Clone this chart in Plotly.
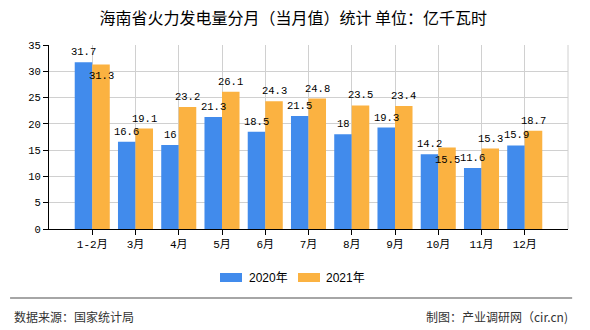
import plotly.graph_objects as go

categories = ["1-2月", "3月", "4月", "5月", "6月", "7月", "8月", "9月", "10月", "11月", "12月"]
values_2020 = [31.7, 16.6, 16, 21.3, 18.5, 21.5, 18, 19.3, 14.2, 11.6, 15.9]
values_2021 = [31.3, 19.1, 23.2, 26.1, 24.3, 24.8, 23.5, 23.4, 15.5, 15.3, 18.7]
series_names = ["2020年", "2021年"]
y_ticks = [0, 5, 10, 15, 20, 25, 30, 35]

BLUE = "#418BEC"
ORANGE = "#FBB241"
label_font = dict(family="Liberation Mono, Noto Sans CJK SC", size=10.5, color="#000000")

fig = go.Figure()
for name, vals, color in [(series_names[0], values_2020, BLUE),
                          (series_names[1], values_2021, ORANGE)]:
    fig.add_trace(go.Bar(name=name, x=categories, y=vals,
                         marker=dict(color=color, line=dict(width=0)), showlegend=False))

# value labels drawn on top of all bars (label placement style, not data)
half_bar = 8.75
inside_2021 = {0, 8}
for i, (c, v) in enumerate(zip(categories, values_2020)):
    fig.add_annotation(x=c, y=v, text=f"{v:g}", showarrow=False, xshift=-half_bar,
                       yanchor="bottom", yshift=2, font=label_font)
for i, (c, v) in enumerate(zip(categories, values_2021)):
    inside = i in inside_2021
    fig.add_annotation(x=c, y=v, text=f"{v:g}", showarrow=False, xshift=half_bar,
                       yanchor="top" if inside else "bottom", yshift=-4 if inside else 2,
                       font=label_font)

fig.update_layout(
    width=590, height=330,
    margin=dict(l=49, r=22, t=45, b=101),
    paper_bgcolor="white", plot_bgcolor="white",
    barmode="group", bargap=0.19, bargroupgap=0,
    title=dict(text="海南省火力发电量分月（当月值）统计 单位：亿千瓦时",
               x=0.497, xref="container", xanchor="center",
               y=1 - 18 / 330, yref="container", yanchor="middle",
               font=dict(family="Noto Sans CJK SC", size=16, color="#000000")),
    xaxis=dict(type="category", range=[-1, 11], showgrid=True, gridcolor="#D0D0D0",
               showline=True, linecolor="#000000", linewidth=1,
               ticks="outside", ticklen=5, tickcolor="#000000",
               tickfont=dict(family="Liberation Mono, Noto Sans CJK SC", size=11, color="#000000")),
    yaxis=dict(range=[0, 35], tickvals=y_ticks, showgrid=True, gridcolor="#D0D0D0",
               showline=True, linecolor="#000000", linewidth=1, zeroline=False,
               ticks="outside", ticklen=5, tickcolor="#000000",
               tickfont=dict(family="Liberation Mono", size=10.5, color="#000000")),
    showlegend=False,
)

fig.add_shape(type="line", xref="x domain", yref="y domain", x0=1, x1=1, y0=0, y1=1,
              line=dict(color="#D0D0D0", width=1))

# legend (drawn to match the reference's wide swatches)
legend_font = dict(family="Liberation Sans, Noto Sans CJK SC", size=12, color="#000000")
for (x0, x1, tx), color, name in [((0.3295, 0.3719, 0.3815), BLUE, series_names[0]),
                                  ((0.4798, 0.5222, 0.5299), ORANGE, series_names[1])]:
    fig.add_shape(type="rect", xref="paper", yref="paper", x0=x0, x1=x1, y0=-0.288, y1=-0.2391,
                  fillcolor=color, line=dict(width=0))
    fig.add_annotation(text=name, xref="paper", yref="paper", x=tx, y=-0.2636,
                       xanchor="left", yanchor="middle", showarrow=False, font=legend_font)

fig.add_shape(type="line", xref="paper", yref="paper", x0=-0.075, x1=1.008,
              y0=-0.375, y1=-0.375, line=dict(color="#888888", width=1.5))

footer_font = dict(family="Noto Sans CJK SC", size=12, color="#333333")
fig.add_annotation(text="数据来源：国家统计局", xref="paper", yref="paper",
                   x=-0.0713, y=-0.478, xanchor="left", yanchor="middle",
                   showarrow=False, font=footer_font)
fig.add_annotation(text="制图：产业调研网（cir.cn)", xref="paper", yref="paper",
                   x=1.004, y=-0.478, xanchor="right", yanchor="middle",
                   showarrow=False, font=footer_font)

fig.write_html("out.html")
